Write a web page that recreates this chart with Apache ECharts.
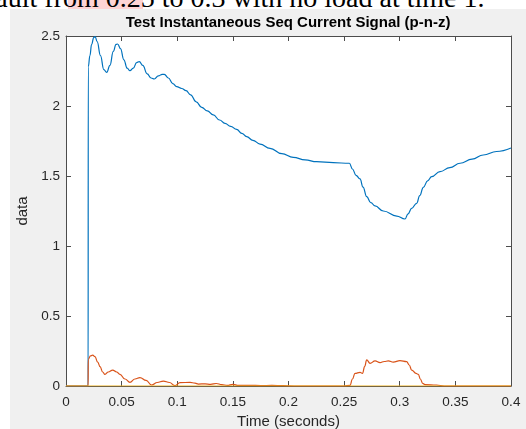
<!DOCTYPE html>
<html>
<head>
<meta charset="utf-8">
<script src="https://cdn.jsdelivr.net/npm/echarts@6.0.0/dist/echarts.min.js"></script>
<style>
    html, body { margin: 0; padding: 0; background: #fff; }
    .page { position: relative; width: 526px; height: 429px; overflow: hidden; background: #fff; }
    .fig { position: absolute; left: 10px; top: 9px; right: 0; bottom: 0; background: #f0f0f0; }
    .mark { position: absolute; left: 68px; top: 0; width: 75px; height: 9px; background: rgba(255, 160, 160, 0.45); }
    .caption {
        position: absolute; left: -14px; top: -16px; white-space: nowrap;
        font-family: "Liberation Serif", serif; font-size: 28px; line-height: 28px; color: #000;
    }
    #chart { position: absolute; left: 0; top: 0; width: 526px; height: 429px; }
</style>
</head>
<body>
<div class="page">
    <div class="mark"></div>
    <div class="caption">fault from 0.25 to 0.3 with no load at time 1.</div>
    <div class="fig"></div>
    <div id="chart"></div>
</div>
<script>
    // positive seq (blue)
    var blueTime = [0, 0.0199, 0.0200, 0.0215, 0.0230, 0.0250, 0.0262, 0.0280, 0.0310, 0.0340, 0.0366, 0.0395,
        0.0425, 0.0450, 0.0464, 0.0490, 0.0520, 0.0550, 0.0575, 0.0605, 0.0635, 0.0659, 0.0690, 0.0730,
        0.0765, 0.0794, 0.0830, 0.0865, 0.0884, 0.0920, 0.0960, 0.0995, 0.1040, 0.1079, 0.1120, 0.1170,
        0.1220, 0.1270, 0.1324, 0.1380, 0.1429, 0.1480, 0.1534, 0.1580, 0.1624, 0.1680, 0.1744, 0.1834,
        0.1940, 0.2043, 0.2150, 0.2253, 0.2403, 0.2547, 0.2575, 0.2607, 0.2643, 0.2670, 0.2703, 0.2740,
        0.2778, 0.2852, 0.2973, 0.3047, 0.3075, 0.3107, 0.3152, 0.3180, 0.3212, 0.3250, 0.3287, 0.3362,
        0.3450, 0.3542, 0.3650, 0.3751, 0.3870, 0.4000];
    var blueVals = [0, 0, 2.28, 2.36, 2.44, 2.49, 2.495, 2.46, 2.36, 2.26, 2.24, 2.29,
        2.39, 2.44, 2.443, 2.41, 2.33, 2.27, 2.252, 2.27, 2.31, 2.317, 2.29, 2.23,
        2.20, 2.193, 2.215, 2.226, 2.226, 2.20, 2.16, 2.138, 2.125, 2.11, 2.08, 2.03,
        1.99, 1.965, 1.936, 1.90, 1.876, 1.855, 1.833, 1.805, 1.781, 1.755, 1.728, 1.698,
        1.66, 1.633, 1.615, 1.602, 1.595, 1.591, 1.55, 1.505, 1.479, 1.42, 1.352, 1.31,
        1.286, 1.25, 1.214, 1.193, 1.23, 1.269, 1.305, 1.36, 1.419, 1.465, 1.495, 1.531,
        1.56, 1.591, 1.62, 1.65, 1.675, 1.70];

    // negative seq (orange)
    var orangeTime = [0, 0.0199, 0.0200, 0.0220, 0.0240, 0.0260, 0.0285, 0.0306, 0.0330, 0.0350, 0.0380, 0.0420,
        0.0455, 0.0485, 0.0530, 0.0575, 0.0620, 0.0665, 0.0720, 0.0770, 0.0820, 0.0875, 0.0930, 0.0980,
        0.1025, 0.1115, 0.1160, 0.1190, 0.1250, 0.1300, 0.1350, 0.1400, 0.1450, 0.1500, 0.1550, 0.1650,
        0.1750, 0.1850, 0.1950, 0.2050, 0.2500, 0.2553, 0.2575, 0.2598, 0.2643, 0.2665, 0.2685, 0.2703,
        0.2733, 0.2778, 0.2823, 0.2860, 0.2897, 0.2942, 0.3002, 0.3062, 0.3085, 0.3107, 0.3146, 0.3167,
        0.3185, 0.3206, 0.3227, 0.3330, 0.3400, 0.4000];
    var orangeVals = [0, 0, 0.19, 0.215, 0.221, 0.21, 0.17, 0.138, 0.10, 0.083, 0.10, 0.114,
        0.10, 0.083, 0.05, 0.026, 0.05, 0.06, 0.04, 0.007, 0.025, 0.035, 0.025, 0.002,
        0.024, 0.026, 0.02, 0.014, 0.015, 0.012, 0.018, 0.01, 0.004, 0.012, 0.004, 0.005,
        0.003, 0.004, 0.002, 0, 0, 0.005, 0.05, 0.09, 0.098, 0.09, 0.14, 0.186,
        0.162, 0.179, 0.167, 0.175, 0.179, 0.171, 0.181, 0.174, 0.15, 0.114, 0.09, 0.083,
        0.05, 0.019, 0.01, 0.007, 0, 0];

    // zero seq (yellow)
    var yellowTime = [0, 0.4];
    var yellowVals = [0, 0];

    var xTicks = [0, 0.05, 0.1, 0.15, 0.2, 0.25, 0.3, 0.35, 0.4];
    var yTicks = [0, 0.5, 1, 1.5, 2, 2.5];

    function pairs(t, v) {
        var out = [];
        for (var i = 0; i < t.length; i++) out.push([t[i], v[i]]);
        return out;
    }

    var txt = '#262626';
    var axisCol = '#4d4d4d';
    var font = 'Liberation Sans';

    function xAx(pos) {
        return {
            type: 'value', position: pos, min: xTicks[0], max: xTicks[xTicks.length - 1], interval: 0.05,
            name: pos === 'bottom' ? 'Time (seconds)' : '',
            nameLocation: 'middle', nameGap: 28,
            nameTextStyle: { color: txt, fontFamily: font, fontSize: 15 },
            axisLine: { show: true, onZero: false, lineStyle: { color: axisCol, width: 1 } },
            axisTick: { show: true, inside: true, length: 5, lineStyle: { color: axisCol } },
            axisLabel: {
                show: pos === 'bottom', margin: 9, color: txt, fontFamily: font, fontSize: 13.5,
                formatter: function (v) { return String(+v.toFixed(2)); }
            },
            splitLine: { show: false }
        };
    }
    function yAx(pos) {
        return {
            type: 'value', position: pos, min: yTicks[0], max: yTicks[yTicks.length - 1], interval: 0.5,
            name: pos === 'left' ? 'data' : '',
            nameLocation: 'middle', nameGap: 30,
            nameTextStyle: { color: txt, fontFamily: font, fontSize: 15 },
            axisLine: { show: true, onZero: false, lineStyle: { color: axisCol, width: 1 } },
            axisTick: { show: true, inside: true, length: 5, lineStyle: { color: axisCol } },
            axisLabel: {
                show: pos === 'left', margin: 6, color: txt, fontFamily: font, fontSize: 13.5,
                formatter: function (v) { return String(+v.toFixed(2)); }
            },
            splitLine: { show: false }
        };
    }

    var chart = echarts.init(document.getElementById('chart'), null, { renderer: 'canvas' });
    chart.setOption({
        backgroundColor: 'transparent',
        animation: false,
        title: {
            text: 'Test Instantaneous Seq Current Signal (p-n-z)',
            left: 288, top: 15, textAlign: 'center', padding: 0,
            textStyle: { color: '#000', fontFamily: font, fontSize: 15, fontWeight: 'bold' }
        },
        grid: {
            left: 66, right: 15, top: 36, bottom: 43,
            show: true, backgroundColor: '#fff', borderWidth: 0,
            outerBoundsMode: 'none'
        },
        xAxis: [xAx('bottom'), xAx('top')],
        yAxis: [yAx('left'), yAx('right')],
        series: [
            {
                type: 'line', data: pairs(blueTime, blueVals), showSymbol: false,
                smooth: 0.45, smoothMonotone: 'x',
                lineStyle: { color: '#0072BD', width: 1.2 }, itemStyle: { color: '#0072BD' }
            },
            {
                type: 'line', data: pairs(orangeTime, orangeVals), showSymbol: false,
                smooth: 0.45, smoothMonotone: 'x',
                lineStyle: { color: '#D95319', width: 1.2 }, itemStyle: { color: '#D95319' }
            },
            {
                type: 'line', data: pairs(yellowTime, yellowVals), showSymbol: false,
                lineStyle: { color: '#EDB120', width: 1.2 }, itemStyle: { color: '#EDB120' }
            }
        ]
    });
</script>
</body>
</html>
